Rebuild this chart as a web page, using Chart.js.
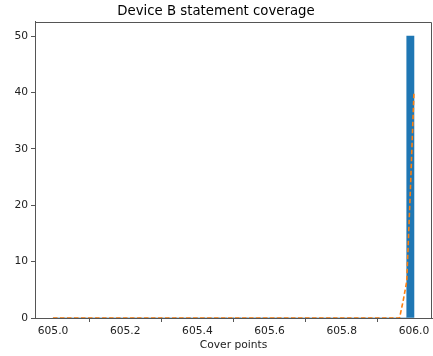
<!DOCTYPE html>
<html>
<head>
<meta charset="utf-8">
<script src="https://cdn.jsdelivr.net/npm/chart.js@4.4.0/dist/chart.umd.min.js"></script>
<style>
  html, body { margin: 0; padding: 0; background: #fff; }
  #wrap { width: 433px; height: 356px; }
</style>
</head>
<body>
<div id="wrap"><canvas id="c" width="433" height="356"></canvas></div>
<script>
// Histogram bins (50 bins of width 0.02 between 605.0 and 606.0)
const binStart = 605.0;
const binWidth = 0.02;
const binCounts = [
  0,0,0,0,0,0,0,0,0,0,
  0,0,0,0,0,0,0,0,0,0,
  0,0,0,0,0,0,0,0,0,0,
  0,0,0,0,0,0,0,0,0,0,
  0,0,0,0,0,0,0,0,0,50
];
// Dashed density-like curve
const curveX = [605.0, 605.96, 605.97, 605.98, 605.99, 606.0];
const curveY = [0, 0, 3, 6.5, 22.5, 40];
// Tick labels
const xTicks = [605.0, 605.2, 605.4, 605.6, 605.8, 606.0];
const yTicks = [0, 10, 20, 30, 40, 50];

const titleText = 'Device B statement coverage';
const xLabel = 'Cover points';

const barData = binCounts.map((c, i) => ({ x: binStart + binWidth * (i + 0.5), y: c }));
const lineData = curveX.map((x, i) => ({ x: x, y: curveY[i] }));

const FONT = "'DejaVu Sans', sans-serif";
const frameColor = '#555';
const TICK_SIZE = 10.7;

const framePlugin = {
  id: 'frame',
  afterDatasetsDraw(chart) {
    const { ctx, chartArea: a } = chart;
    ctx.save();
    ctx.strokeStyle = frameColor;
    ctx.lineWidth = 1;
    ctx.beginPath();
    ctx.moveTo(Math.round(a.left) + 0.5, Math.round(a.top) + 0.5);
    ctx.lineTo(Math.round(a.right) - 0.5, Math.round(a.top) + 0.5);
    ctx.lineTo(Math.round(a.right) - 0.5, Math.round(a.bottom) + 0.5);
    ctx.stroke();
    ctx.restore();
  }
};

new Chart(document.getElementById('c'), {
  data: {
    datasets: [
      {
        type: 'bar',
        data: barData,
        backgroundColor: '#1f77b4',
        borderWidth: 0,
        categoryPercentage: 1.0,
        barPercentage: 1.0,
        order: 2
      },
      {
        type: 'line',
        data: lineData,
        borderColor: '#ff7f0e',
        borderWidth: 1.6,
        borderDash: [4.5, 2.5],
        pointRadius: 0,
        tension: 0,
        fill: false,
        order: 1
      }
    ]
  },
  options: {
    responsive: false,
    animation: false,
    devicePixelRatio: 1,
    layout: { padding: { left: 0, right: 1, top: 0, bottom: 0 } },
    plugins: {
      legend: { display: false },
      tooltip: { enabled: false },
      title: {
        display: true,
        text: titleText,
        color: '#000',
        font: { family: FONT, size: 13.3, weight: 'normal', lineHeight: 1.2 },
        padding: { top: 4, bottom: 2 }
      }
    },
    scales: {
      x: {
        type: 'linear',
        min: 604.95,
        max: 606.05,
        offset: false,
        afterBuildTicks: (s) => { s.ticks = xTicks.map(v => ({ value: v })); },
        afterFit: (s) => { s.height = 38; },
        ticks: {
          callback: (v) => Number(v).toFixed(1),
          color: '#222',
          font: { family: FONT, size: TICK_SIZE },
          maxRotation: 0,
          autoSkip: false,
          padding: 3
        },
        grid: { drawOnChartArea: false, drawTicks: true, tickLength: 4, color: frameColor },
        border: { display: true, color: frameColor, width: 1 },
        title: {
          display: true,
          text: xLabel,
          color: '#222',
          font: { family: FONT, size: TICK_SIZE },
          padding: { top: 2, bottom: 4 }
        }
      },
      y: {
        type: 'linear',
        min: 0,
        max: 52.5,
        afterBuildTicks: (s) => { s.ticks = yTicks.map(v => ({ value: v })); },
        afterFit: (s) => { s.width = 35; },
        ticks: {
          color: '#222',
          font: { family: FONT, size: TICK_SIZE },
          padding: 3
        },
        grid: { drawOnChartArea: false, drawTicks: true, tickLength: 4, color: frameColor },
        border: { display: true, color: frameColor, width: 1 }
      }
    }
  },
  plugins: [framePlugin]
});
</script>
</body>
</html>
